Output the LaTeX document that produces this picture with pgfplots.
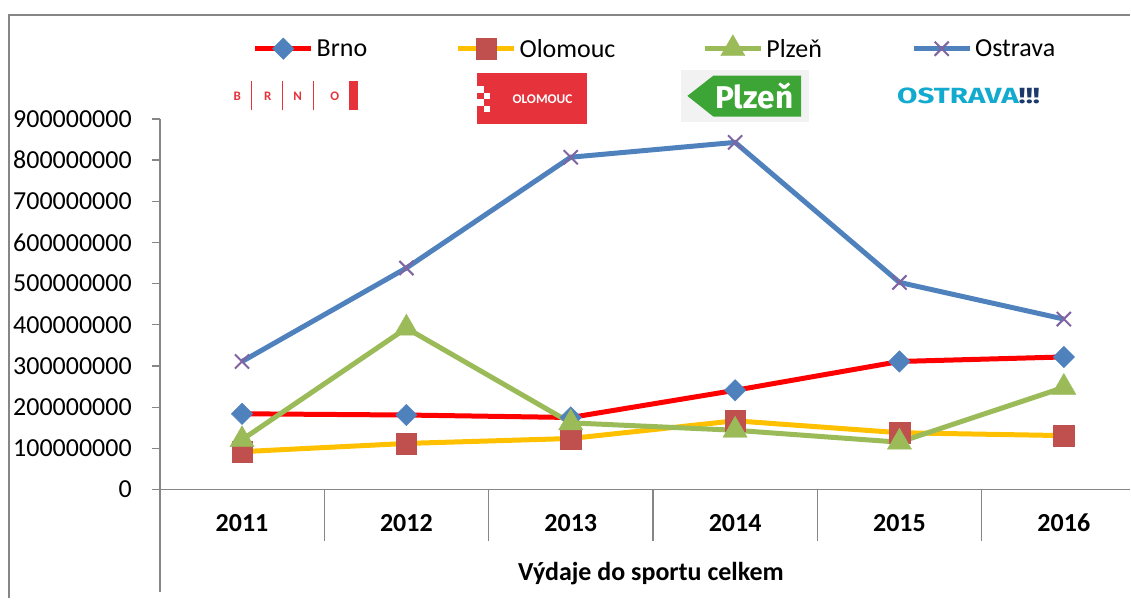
\documentclass[border=0pt]{standalone}
\usepackage{pgfplots}
\pgfplotsset{compat=1.18}
\usepackage{fontspec}
\setmainfont{Carlito}
\newfontfamily\logofont{Fira Sans}
\definecolor{axgrey}{HTML}{868686}
\definecolor{brnored}{HTML}{FF0000}
\definecolor{olyellow}{HTML}{FFC000}
\definecolor{plgreen}{HTML}{9BBB59}
\definecolor{osblue}{HTML}{4F81BD}
\definecolor{mkblue}{HTML}{4F81BD}
\definecolor{mkred}{HTML}{C0504D}
\definecolor{mkpurple}{HTML}{8064A2}
\definecolor{logored}{HTML}{E5323B}
\definecolor{logogreen}{HTML}{3DA535}
\definecolor{logocyan}{HTML}{12AACF}
\definecolor{logonavy}{HTML}{1B3A6B}
\newcommand\bigfont{\fontsize{26bp}{30bp}\selectfont}
\begin{document}
\begin{tikzpicture}
\path (-160bp,-109bp) rectangle (971bp,490bp);
\begin{axis}[
  at={(0bp,0bp)}, anchor=south west,
  scale only axis, width=971bp, height=371bp,
  xmin=-0.5, xmax=5.4027, ymin=0, ymax=900000000,
  axis x line*=bottom, axis y line*=left,
  axis line style={axgrey, line width=1.3bp},
  xtick={0,1,2,3,4,5}, xticklabels={2011,2012,2013,2014,2015,2016},
  xtick style={draw=none},
  ytick={0,100000000,200000000,300000000,400000000,500000000,600000000,700000000,800000000,900000000},
  yticklabels={0,100000000,200000000,300000000,400000000,500000000,600000000,700000000,800000000,900000000},
  scaled y ticks=false,
  ytick style={axgrey, line width=1.3bp},
  tick align=outside, major tick length=8bp,
  ytick pos=left,
  yticklabel style={anchor=east, inner sep=0pt, xshift=-20bp, font=\bigfont},
  xticklabel style={anchor=base, inner sep=0pt, yshift=-34bp, font=\bigfont\bfseries},
  legend columns=4,
  legend style={at={(0.0958,1.1937)}, anchor=west, draw=none, fill=none,
     inner sep=0pt, outer sep=0pt, font=\bigfont, nodes={inner sep=0pt},
     /tikz/every odd column/.append style={column sep=3bp}},
  legend cell align=left,
  legend image code/.code={\draw[mark repeat=2, mark phase=2, #1] plot coordinates {(0bp,0bp) (28bp,0bp) (56bp,0bp)};},
  clip=false,
]
\addplot[brnored, line width=5bp, mark=square*, mark size=7.6bp,
  mark options={rotate=45, fill=mkblue, draw=mkblue, line width=0.4bp}]
  coordinates {(0,184000000) (1,181000000) (2,175000000) (3,241000000) (4,311000000) (5,322000000)};
\addlegendentry{\makebox[139bp][l]{Brno}}
\addplot[olyellow, line width=5bp, mark=square*, mark size=10.3bp,
  mark options={fill=mkred, draw=mkred, line width=0.4bp}]
  coordinates {(0,92000000) (1,112000000) (2,124000000) (3,167000000) (4,138000000) (5,131000000)};
\addlegendentry{\makebox[183bp][l]{Olomouc}}
\addplot[plgreen, line width=5bp, mark=triangle*, mark size=14bp,
  mark options={fill=plgreen, draw=plgreen, line width=0.4bp}]
  coordinates {(0,121000000) (1,392000000) (2,162000000) (3,144000000) (4,115000000) (5,248000000)};
\addlegendentry{\makebox[145bp][l]{Plzeň}}
\addplot[osblue, line width=5bp, mark=x, mark size=10bp,
  mark options={draw=mkpurple, line width=2bp}]
  coordinates {(0,311000000) (1,538000000) (2,807000000) (3,843000000) (4,503000000) (5,414000000)};
\addlegendentry{Ostrava}
\end{axis}
% category separators and axis extensions
\foreach \i in {1,...,5} \draw[axgrey, line width=1.3bp] (\i*164.5bp,0bp) -- (\i*164.5bp,-51.5bp);
\draw[axgrey, line width=1.3bp] (0bp,0bp) -- (0bp,-103bp);
% outer frame
\draw[axgrey, line width=2bp] (-151bp,-109bp) -- (-151bp,475bp) -- (971bp,475bp);
% axis title
\node[anchor=base, inner sep=0pt, font=\bigfont\bfseries] at (491.5bp,-91.5bp) {Výdaje do sportu celkem};
% ---- logos ----
% Brno
\foreach \x/\l in {77.5/B,108/R,138/N,175/O}
  \node[text=logored, inner sep=0pt, font=\fontsize{13bp}{13bp}\selectfont\bfseries] at (\x bp,394bp) {\l};
\foreach \x in {92,123,154} \draw[logored, line width=1.4bp] (\x bp,379.5bp) -- (\x bp,408.5bp);
\fill[logored] (189.5bp,379.5bp) rectangle (198bp,408.5bp);
% Olomouc
\fill[logored] (317.5bp,366bp) rectangle (427.7bp,416.7bp);
\fill[white] (317.5bp,397bp) rectangle (324bp,403.5bp);
\fill[white] (324bp,390.5bp) rectangle (330.5bp,397bp);
\fill[white] (317.5bp,384bp) rectangle (324bp,390.5bp);
\fill[white] (324bp,377.5bp) rectangle (330.5bp,384bp);
\node[text=white, inner sep=0pt] at (383bp,391bp) {\resizebox{60bp}{!}{\bfseries OLOMOUC}};
% Plzen
\fill[black!5] (522bp,368.3bp) rectangle (650bp,420bp);
\fill[logogreen] (528bp,394bp) -- (554bp,414.3bp) -- (641.8bp,414.3bp) -- (641.8bp,373.3bp) -- (554bp,373.3bp) -- cycle;
\node[text=white, inner sep=0pt] at (595bp,394bp) {\resizebox{78bp}{!}{\logofont\bfseries Plzeň}};
% Ostrava
\node[anchor=base west, inner sep=0pt] at (737.7bp,386.7bp) {\resizebox{143bp}{15.6bp}{\logofont\bfseries\textcolor{logocyan}{OSTRAVA}\textcolor{logonavy}{!!!}}};
\end{tikzpicture}
\end{document}
